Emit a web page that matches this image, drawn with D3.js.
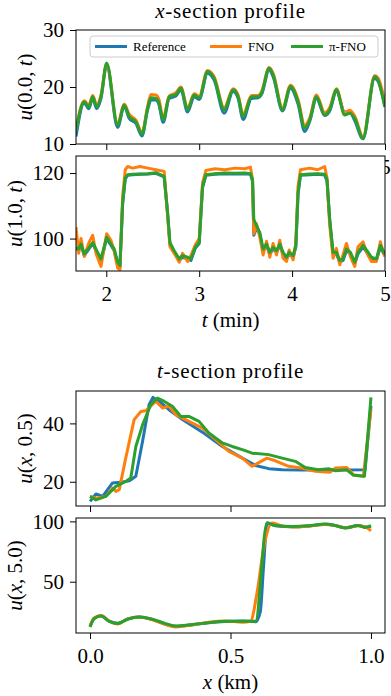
<!DOCTYPE html>
<html>
<head>
<meta charset="utf-8">
<script src="https://cdn.jsdelivr.net/npm/d3@7"></script>
<style>
  body { margin: 0; background: #fff; }
  svg text { font-family: "Liberation Serif", "Times New Roman", "DejaVu Serif", serif; fill: #000; }
</style>
</head>
<body>
<div id="chart"></div>
<script>
//x-section at x = 0.0 (top panel)
var tTop = [1.674, 1.763, 1.811, 1.854, 1.897, 1.943, 2.004, 2.122, 2.193, 2.247,
            2.319, 2.384, 2.445, 2.480, 2.534, 2.563, 2.613, 2.677, 2.749, 2.803,
            2.875, 2.946, 3.000, 3.090, 3.161, 3.269, 3.365, 3.419, 3.473, 3.563,
            3.634, 3.671, 3.753, 3.796, 3.897, 3.983, 4.064, 4.136, 4.190, 4.262,
            4.351, 4.405, 4.477, 4.566, 4.620, 4.674, 4.763, 4.889, 4.925, 4.997];
var refTop = [11.3, 17.2, 16.2, 18.0, 16.2, 18.0, 23.8, 12.9, 16.6, 14.5,
              13.6, 11.4, 16.0, 17.7, 17.7, 17.1, 13.8, 18.0, 18.4, 19.5,
              15.6, 18.3, 17.8, 22.4, 21.2, 15.4, 19.2, 18.0, 14.3, 18.0,
              18.1, 18.7, 23.0, 21.8, 15.8, 19.8, 17.0, 12.2, 14.0, 18.0,
              15.0, 15.8, 19.2, 15.6, 15.6, 14.1, 10.9, 21.5, 21.0, 16.8];
var fnoTop = [12.5, 17.6, 16.8, 18.5, 16.8, 18.6, 24.0, 13.6, 17.0, 15.2,
              14.2, 12.0, 16.6, 18.7, 18.6, 18.0, 14.6, 18.4, 19.0, 20.0,
              16.3, 18.8, 18.4, 22.9, 21.8, 16.4, 19.7, 18.6, 15.2, 18.5,
              18.5, 19.2, 23.4, 22.4, 16.3, 20.3, 17.8, 13.3, 14.6, 18.6,
              15.5, 16.4, 19.7, 15.5, 15.9, 14.9, 11.3, 22.0, 21.6, 17.5];
var piTop = [12.3, 17.4, 16.5, 18.3, 16.5, 18.3, 24.2, 13.3, 16.8, 14.8,
             13.9, 11.7, 16.3, 18.1, 18.0, 17.4, 14.2, 18.3, 18.7, 19.8,
             16.0, 18.6, 18.1, 22.7, 21.5, 16.0, 19.5, 18.3, 14.8, 18.3,
             18.3, 18.9, 23.3, 22.1, 16.0, 20.1, 17.4, 12.8, 14.2, 18.3,
             15.1, 16.0, 19.5, 15.1, 15.4, 14.5, 11.0, 21.8, 21.2, 16.5];

//x-section at x = 1.0
var tMid = [1.674, 1.703, 1.728, 1.763, 1.817, 1.854, 1.889, 1.943, 2.004, 2.050,
            2.086, 2.122, 2.147, 2.176, 2.204, 2.230, 2.284, 2.362, 2.448, 2.534,
            2.623, 2.660, 2.685, 2.731, 2.785, 2.821, 2.875, 2.911, 2.957, 3.000,
            3.036, 3.072, 3.169, 3.276, 3.384, 3.491, 3.552, 3.574, 3.588, 3.617,
            3.652, 3.688, 3.725, 3.760, 3.796, 3.832, 3.868, 3.903, 3.940, 3.968,
            4.011, 4.040, 4.064, 4.090, 4.190, 4.276, 4.351, 4.376, 4.405, 4.441,
            4.477, 4.513, 4.548, 4.585, 4.628, 4.674, 4.709, 4.763, 4.806, 4.854,
            4.907, 4.950, 4.997];
var refMid = [97.0, 96.3, 98.0, 94.8, 97.0, 98.5, 96.3, 93.3, 100.0, 98.0,
              96.3, 92.3, 91.3, 110.5, 118.2, 119.3, 119.5, 119.6, 119.7, 119.9,
              118.8, 107.5, 98.3, 95.8, 93.3, 94.3, 93.8, 93.3, 97.0, 98.5,
              115.5, 119.3, 119.6, 119.8, 119.7, 119.8, 119.6, 117.5, 101.0, 103.2,
              101.3, 96.2, 97.8, 95.3, 96.8, 95.8, 97.8, 95.3, 93.8, 95.3,
              94.3, 97.4, 113.5, 119.3, 119.5, 119.6, 119.4, 117.5, 105.3, 95.2,
              95.3, 92.8, 93.3, 96.3, 95.3, 92.3, 95.3, 97.4, 95.8, 93.8,
              93.3, 97.4, 94.8];
var fnoMid = [103.5, 95.5, 100.0, 94.5, 99.0, 101.0, 95.5, 91.5, 101.5, 99.5,
              96.0, 91.0, 90.5, 113.0, 121.0, 122.0, 121.5, 122.0, 121.5, 121.0,
              120.5, 107.0, 97.5, 95.5, 92.8, 95.5, 93.0, 94.8, 98.0, 100.0,
              117.0, 120.8, 121.3, 121.0, 121.5, 121.3, 121.8, 118.0, 101.5, 104.5,
              100.5, 95.0, 99.2, 94.3, 98.5, 95.0, 99.5, 94.0, 93.0, 96.5,
              93.5, 98.5, 116.0, 121.0, 121.5, 121.0, 122.0, 118.5, 104.0, 94.0,
              97.0, 92.0, 95.0, 98.5, 94.5, 91.5, 97.5, 99.0, 95.5, 93.0,
              93.0, 99.0, 94.5];
var piMid = [97.3, 96.8, 98.3, 95.3, 97.3, 98.8, 96.8, 93.8, 100.4, 98.3,
             96.8, 92.8, 91.8, 111.0, 118.5, 119.5, 119.6, 119.7, 119.8, 120.1,
             119.0, 108.0, 98.8, 96.3, 93.8, 94.8, 94.3, 93.8, 97.3, 98.8,
             116.0, 119.5, 119.8, 120.0, 119.9, 120.0, 119.8, 118.0, 105.9, 103.9,
             101.9, 96.8, 98.3, 95.8, 97.3, 96.3, 98.3, 95.8, 94.3, 95.8,
             94.8, 97.9, 114.0, 119.5, 119.7, 119.8, 119.6, 118.0, 105.9, 95.8,
             95.8, 93.3, 93.8, 96.8, 95.8, 92.8, 95.8, 97.9, 96.3, 94.3,
             93.8, 97.9, 95.3];

//t-section at t = 0.5
var xRefHalf = [0, 0.021, 0.045, 0.080, 0.116, 0.139, 0.163, 0.187, 0.210, 0.224, 0.246, 0.281,
                0.329, 0.400, 0.471, 0.542, 0.589, 0.636, 0.684, 0.750, 0.850, 0.979, 1.0];
var refHalf = [13.3, 15.8, 15.0, 19.6, 19.9, 20.3, 21.9, 33.9, 46.4, 48.9, 47.6, 44.7,
               41.3, 37.0, 32.1, 28.1, 25.6, 24.5, 24.1, 24.0, 24.0, 24.1, 46.0];
var xFnoHalf = [0, 0.021, 0.056, 0.080, 0.092, 0.104, 0.127, 0.157, 0.181, 0.198, 0.234,
                0.258, 0.281, 0.305, 0.352, 0.400, 0.447, 0.494, 0.542, 0.577, 0.630,
                0.660, 0.707, 0.754, 0.802, 0.855, 0.873, 0.914, 0.938, 0.973, 1.0];
var fnoHalf = [15.0, 14.4, 15.0, 17.8, 16.7, 17.3, 28.1, 41.3, 44.1, 44.3, 47.6,
               45.3, 45.9, 43.0, 40.7, 38.4, 34.4, 30.4, 28.1, 25.3, 28.1,
               27.2, 25.3, 24.7, 23.6, 23.3, 24.7, 24.9, 22.4, 21.9, 44.7];
var xPiHalf = [0, 0.021, 0.056, 0.092, 0.127, 0.145, 0.163, 0.187, 0.216, 0.240, 0.263,
               0.293, 0.323, 0.352, 0.388, 0.423, 0.471, 0.506, 0.542, 0.577, 0.636,
               0.684, 0.731, 0.766, 0.813, 0.849, 0.873, 0.914, 0.938, 0.977, 1.0];
var piHalf = [15.0, 13.8, 15.0, 18.4, 20.1, 21.3, 32.1, 39.5, 46.4, 48.7, 47.6,
              45.9, 42.4, 42.4, 40.7, 36.7, 33.3, 32.1, 31.0, 29.8, 29.3,
              28.1, 27.0, 24.9, 24.1, 24.5, 23.8, 24.1, 22.2, 21.9, 48.9];

//t-section at t = 5.0
var xRefEnd = [0, 0.015, 0.039, 0.068, 0.098, 0.133, 0.175, 0.222, 0.269, 0.305, 0.364, 0.423,
               0.482, 0.542, 0.589, 0.606, 0.618, 0.630, 0.660, 0.719, 0.778, 0.837, 0.873,
               0.908, 0.955, 0.979, 1.0];
var refEnd = [13.0, 19.8, 21.8, 17.3, 15.5, 19.0, 20.8, 18.8, 14.8, 13.0, 14.3, 16.0,
              17.0, 17.5, 16.8, 25.0, 63.9, 98.6, 96.4, 95.5, 96.2, 97.6, 96.6,
              94.7, 96.5, 95.2, 96.0];
var xFnoEnd = [0, 0.015, 0.039, 0.068, 0.098, 0.133, 0.175, 0.222, 0.269, 0.305, 0.364, 0.423,
               0.482, 0.542, 0.571, 0.595, 0.618, 0.648, 0.680, 0.719, 0.778, 0.837, 0.873,
               0.908, 0.955, 0.979, 1.0];
var fnoEnd = [13.5, 20.0, 22.0, 17.5, 15.0, 19.0, 20.8, 18.5, 14.5, 12.5, 14.2, 16.5,
              17.5, 16.5, 17.2, 41.6, 77.8, 98.6, 96.5, 95.3, 96.0, 97.5, 96.5,
              94.8, 96.3, 95.5, 92.2];
var xPiEnd = [0, 0.015, 0.039, 0.068, 0.098, 0.133, 0.175, 0.222, 0.269, 0.305, 0.364, 0.423,
              0.482, 0.542, 0.589, 0.630, 0.660, 0.719, 0.778, 0.837, 0.873, 0.908, 0.955,
              0.979, 1.0];
var piEnd = [12.5, 19.5, 21.6, 17.2, 15.3, 18.9, 20.8, 18.9, 15.3, 13.3, 14.5, 16.1,
             17.2, 17.2, 17.2, 98.6, 96.6, 95.8, 96.4, 97.8, 96.6, 94.5, 96.6,
             95.0, 96.4];

var seriesNames = ["Reference", "FNO", "\u03c0-FNO"];
var tTicks = [2, 3, 4, 5];
var xTicks = [0, 0.5, 1.0];

//Page setup
var width = 391, height = 696;
var plotLeft = 76, plotRight = 385;
var colors = ["#1f77b4", "#ff7f0e", "#2ca02c"];
var serif = "'Liberation Serif', 'Times New Roman', 'DejaVu Serif', serif";

var svg = d3.select("#chart")
   .append("svg")
   .attr("width", width)
   .attr("height", height)
   .attr("font-family", serif);

var xTime = d3.scaleLinear().domain([1.674, 5]).range([plotLeft, plotRight]);
var xSpace = d3.scaleLinear().domain([-0.05, 1.05]).range([plotLeft, plotRight]);

//Writes text where italic pieces are marked with true
function mathText(sel, parts) {
  parts.forEach(function(p) {
    sel.append("tspan")
       .text(p[0])
       .style("font-style", p[1] ? "italic" : "normal");
  });
}

//Draws one subplot: background, lines, frame and both axes
function panel(id, top, bottom, x, yDomain, yTicks, xTickVals, xFormat, series, curve, ylab, ylabX) {
  var y = d3.scaleLinear().domain(yDomain).range([bottom, top]);
  var g = svg.append("g");

  //white axes background, covers tick labels of the panel above
  g.append("rect")
     .attr("x", plotLeft)
     .attr("y", top)
     .attr("width", plotRight - plotLeft)
     .attr("height", bottom - top)
     .style("fill", "#fff");

  svg.append("clipPath")
     .attr("id", id)
     .append("rect")
     .attr("x", plotLeft)
     .attr("y", top)
     .attr("width", plotRight - plotLeft)
     .attr("height", bottom - top);

  var lines = g.append("g").attr("clip-path", "url(#" + id + ")");
  series.forEach(function(s, i) {
    var line = d3.line()
       .x(function(d, j) { return x(s.x[j]); })
       .y(function(d) { return y(d); })
       .curve(curve);
    lines.append("path")
       .attr("d", line(s.y))
       .style("fill", "none")
       .style("stroke", colors[i])
       .style("stroke-width", 3)
       .style("stroke-linejoin", "round");
  });

  //y axis
  var ya = g.append("g")
     .attr("transform", "translate(" + plotLeft + ",0)")
     .call(d3.axisLeft(y).tickValues(yTicks).tickSize(6).tickPadding(6).tickSizeOuter(0));
  //x axis
  var xa = g.append("g")
     .attr("transform", "translate(0," + bottom + ")")
     .call(d3.axisBottom(x).tickValues(xTickVals).tickFormat(xFormat)
       .tickSize(6).tickPadding(9).tickSizeOuter(0));
  [ya, xa].forEach(function(a) {
    a.attr("font-family", serif).attr("font-size", 21);
    a.select(".domain").remove();
    a.selectAll("line").style("stroke", "#000").style("stroke-width", 1);
    a.selectAll("text").style("fill", "#000");
  });

  //frame
  g.append("rect")
     .attr("x", plotLeft)
     .attr("y", top)
     .attr("width", plotRight - plotLeft)
     .attr("height", bottom - top)
     .style("fill", "none")
     .style("stroke", "#000")
     .style("stroke-width", 1);

  //rotated y label
  var t = g.append("text")
     .attr("transform", "translate(" + ylabX + "," + ((top + bottom) / 2) + ") rotate(-90)")
     .attr("text-anchor", "middle")
     .style("font-size", "21px");
  mathText(t, ylab);
  return g;
}

var fmtT = d3.format("d");
var fmtX = d3.format(".1f");

//Titles
var title1 = svg.append("text")
   .attr("x", (plotLeft + plotRight) / 2)
   .attr("y", 18)
   .attr("text-anchor", "middle")
   .style("font-size", "21px")
   .style("letter-spacing", "0.8px");
mathText(title1, [["x", true], ["-section profile", false]]);

//Panel 1
panel("clip1", 30, 144, xTime, [10, 30], [10, 20, 30], tTicks, fmtT,
  [{x: tTop, y: refTop}, {x: tTop, y: fnoTop}, {x: tTop, y: piTop}],
  d3.curveMonotoneX, [["u", true], ["(0.0, ", false], ["t", true], [")", false]], 31.5);

//Legend
var leg = svg.append("g");
leg.append("rect")
   .attr("x", 90)
   .attr("y", 36)
   .attr("width", 288)
   .attr("height", 21)
   .attr("rx", 3)
   .style("fill", "#fff")
   .style("fill-opacity", 0.8)
   .style("stroke", "#cccccc")
   .style("stroke-width", 1);
var legX = [95, 210, 291];
seriesNames.forEach(function(name, i) {
  leg.append("line")
     .attr("x1", legX[i])
     .attr("x2", legX[i] + 32)
     .attr("y1", 46.5)
     .attr("y2", 46.5)
     .style("stroke", colors[i])
     .style("stroke-width", 3);
  leg.append("text")
     .text(name)
     .attr("x", legX[i] + 38)
     .attr("y", 51)
     .style("font-size", "13px");
});

//Panel 2
panel("clip2", 156, 271, xTime, [90.1, 125.2], [100, 120], tTicks, fmtT,
  [{x: tMid, y: refMid}, {x: tMid, y: fnoMid}, {x: tMid, y: piMid}],
  d3.curveLinear, [["u", true], ["(1.0, ", false], ["t", true], [")", false]], 21.5);

var xl1 = svg.append("text")
   .attr("x", (plotLeft + plotRight) / 2)
   .attr("y", 327)
   .attr("text-anchor", "middle")
   .style("font-size", "21px");
mathText(xl1, [["t", true], [" (min)", false]]);

var title2 = svg.append("text")
   .attr("x", (plotLeft + plotRight) / 2)
   .attr("y", 378)
   .attr("text-anchor", "middle")
   .style("font-size", "21px")
   .style("letter-spacing", "0.8px");
mathText(title2, [["t", true], ["-section profile", false]]);

//Panel 3
panel("clip3", 391, 506, xSpace, [11.7, 51.1], [20, 40], xTicks, fmtX,
  [{x: xRefHalf, y: refHalf}, {x: xFnoHalf, y: fnoHalf}, {x: xPiHalf, y: piHalf}],
  d3.curveLinear, [["u", true], ["(", false], ["x", true], [", 0.5)", false]], 31.5);

//Panel 4
panel("clip4", 518, 633, xSpace, [7.5, 102.8], [50, 100], xTicks, fmtX,
  [{x: xRefEnd, y: refEnd}, {x: xFnoEnd, y: fnoEnd}, {x: xPiEnd, y: piEnd}],
  d3.curveMonotoneX, [["u", true], ["(", false], ["x", true], [", 5.0)", false]], 21.5);

var xl2 = svg.append("text")
   .attr("x", (plotLeft + plotRight) / 2)
   .attr("y", 689)
   .attr("text-anchor", "middle")
   .style("font-size", "21px");
mathText(xl2, [["x", true], [" (km)", false]]);
</script>
</body>
</html>
